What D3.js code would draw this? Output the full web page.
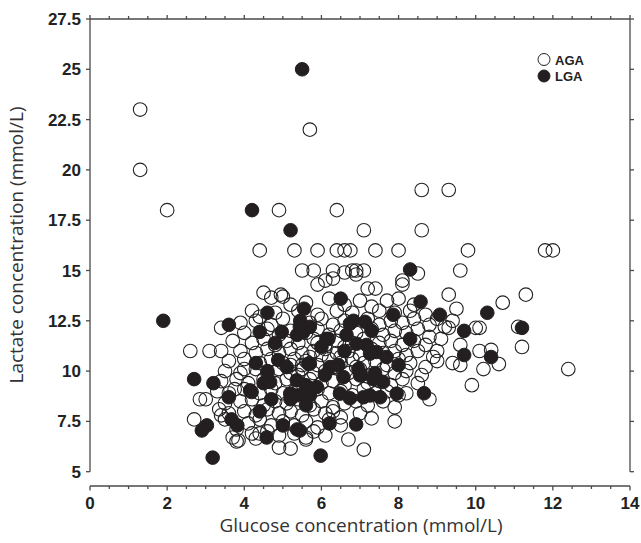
<!DOCTYPE html>
<html>
<head>
<meta charset="utf-8">
<script src="https://cdn.jsdelivr.net/npm/d3@7"></script>
<style>
  html, body { margin: 0; padding: 0; background: #fff; }
  svg { display: block; }
  .tick-label { font-family: "Liberation Sans", Arial, sans-serif; font-weight: bold; font-size: 17px; fill: #222; }
  .axis-title { font-family: "Open Sans", "Noto Sans", sans-serif; font-size: 19px; fill: #333; }
  .legend-label { font-family: "Liberation Sans", Arial, sans-serif; font-weight: bold; font-size: 13px; fill: #222; }
</style>
</head>
<body>
<div id="chart"></div>
<script>
// ---- data (glucose mmol/L, lactate mmol/L) ----
const seriesNames = ["AGA", "LGA"];

const agaPoints = [
  [1.3,23],[1.3,20],[2.0,18],[5.7,22],[4.9,18],[6.4,18],[7.1,17],[8.6,17],[8.6,19],[9.3,19],
  [4.4,16],[5.3,16],[5.9,16],[6.4,16],[6.6,16],[6.75,16],[7.4,16],[8.0,16],[9.8,16],[11.8,16],[12.0,16],
  [5.5,15],[5.8,15],[6.3,15],[6.6,14.9],[6.8,15],[6.9,15],[7.1,15],[6.9,14.8],[8.5,14.85],[9.6,15],
  [5.9,14.3],[6.3,14.6],[6.1,14.5],[8.1,14.5],[8.1,14.3],[7.2,14.1],[7.4,14.1],
  [4.5,13.9],[4.7,13.65],[4.95,13.8],[5.0,13.7],[9.3,13.8],[11.3,13.8],[10.7,13.4],[9.5,13.1],
  [4.4,12.7],[3.4,12.15],[2.6,11.0],[3.1,11.0],[3.4,11.0],[4.0,10.1],
  [9.2,12.2],[9.3,12.15],[10.0,12.15],[10.1,12.15],[11.1,12.2],[11.2,11.2],[9.6,11.3],[10.1,11.0],[10.4,11.05],
  [9.4,10.4],[9.6,10.3],[10.6,10.35],[10.2,10.1],[12.4,10.1],[9.9,9.3],[9.1,11.6],
  [3.0,8.6],[2.85,8.6],[3.75,9.1],[3.35,8.1],[3.4,7.8],[2.7,7.6],[3.7,6.7],[3.8,6.5],[3.85,6.55],
  [4.3,6.65],[4.4,6.9],[4.9,6.2],[5.2,6.15],[5.6,6.7],[5.6,6.6],
  [8.8,8.6],[8.2,8.9],[7.9,8.2],[7.9,7.5],[7.3,7.65],[6.7,6.6],[7.1,6.1],
  [5.6,13.4],[6.2,13.6],[6.6,13.3],[7.0,13.5],[7.3,13.2],[7.7,13.5],[8.0,13.6],[8.4,13.3],[5.2,13.3],
  [4.2,13.0],[4.8,12.9],[5.4,13.0],[5.9,12.8],[6.4,13.0],[6.8,12.9],[7.5,13.0],[7.9,12.9],[8.3,13.0],[8.7,12.8],[9.0,12.6],
  [3.9,12.4],[4.3,12.5],[4.7,12.3],[5.0,12.6],[5.7,12.4],[6.0,12.6],[6.3,12.3],[6.6,12.5],[7.2,12.6],[7.5,12.3],[7.8,12.5],[8.1,12.4],[8.4,12.6],[8.8,12.3],[9.4,12.5],
  [4.0,11.9],[4.6,12.1],[4.9,11.8],[5.2,12.0],[5.6,11.9],[5.9,12.1],[6.2,11.8],[6.5,12.0],[6.9,11.9],[7.3,12.1],[7.6,11.8],[7.9,12.0],[8.2,11.9],[8.5,12.1],[8.8,11.7],
  [3.7,11.5],[4.2,11.4],[4.5,11.6],[4.8,11.3],[5.1,11.5],[5.4,11.4],[5.8,11.6],[6.1,11.3],[6.4,11.5],[6.8,11.4],[7.1,11.6],[7.5,11.4],[7.8,11.5],[8.1,11.3],[8.4,11.5],[8.7,11.3],[9.0,11.0],
  [3.9,11.0],[4.3,10.9],[4.6,11.1],[4.9,10.9],[5.2,11.1],[5.5,10.9],[5.8,11.0],[6.1,11.1],[6.4,10.9],[6.7,11.0],[7.0,10.8],[7.3,11.1],[7.6,10.9],[7.9,11.0],[8.2,10.8],[8.5,11.0],[8.9,10.7],
  [3.6,10.5],[4.0,10.6],[4.4,10.4],[4.7,10.6],[5.0,10.4],[5.3,10.6],[5.6,10.5],[5.9,10.3],[6.2,10.6],[6.5,10.4],[6.8,10.6],[7.1,10.4],[7.4,10.5],[7.7,10.3],[8.0,10.6],[8.3,10.4],[8.7,10.2],[9.0,10.5],
  [3.5,10.0],[3.9,9.9],[4.3,10.1],[4.6,9.9],[4.9,10.1],[5.2,9.9],[5.5,10.1],[5.8,9.9],[6.1,10.0],[6.4,10.2],[6.7,9.9],[7.0,10.1],[7.3,9.8],[7.6,10.1],[7.9,9.9],[8.2,10.0],[8.6,9.8],
  [3.4,9.5],[3.8,9.6],[4.1,9.4],[4.5,9.6],[4.8,9.4],[5.1,9.6],[5.4,9.4],[5.7,9.6],[6.0,9.4],[6.3,9.5],[6.6,9.3],[6.9,9.6],[7.2,9.4],[7.5,9.5],[7.8,9.3],[8.1,9.6],[8.5,9.4],
  [3.3,9.0],[3.6,8.9],[4.0,9.1],[4.4,8.9],[4.7,9.1],[5.0,8.9],[5.3,9.0],[5.6,8.8],[5.9,9.1],[6.2,8.9],[6.5,9.0],[6.8,8.8],[7.1,9.1],[7.4,8.9],[7.7,9.0],[8.0,8.8],
  [3.5,8.4],[3.9,8.5],[4.2,8.6],[4.5,8.3],[4.8,8.5],[5.1,8.4],[5.4,8.6],[5.7,8.3],[6.0,8.5],[6.3,8.2],[6.6,8.4],[6.9,8.5],[7.2,8.3],[7.6,8.5],
  [3.6,7.9],[4.0,8.0],[4.3,7.8],[4.6,8.1],[4.9,7.9],[5.2,8.0],[5.5,7.8],[5.8,8.1],[6.1,7.9],[6.3,8.0],[6.5,7.7],[7.0,7.9],
  [3.5,7.6],[4.1,7.4],[4.4,7.6],[4.7,7.3],[5.0,7.5],[5.3,7.3],[5.6,7.5],[5.9,7.2],[6.2,7.6],[6.5,7.3],
  [3.8,7.1],[4.2,6.9],[4.6,7.0],[4.9,6.8],[5.3,6.9],[5.8,7.0],[6.1,6.8],
  [5.5,10.3],[5.7,10.7],[6.0,10.8],[6.3,10.2],[5.4,9.8],[6.5,10.7],[5.9,11.4],[6.6,11.2],[5.2,10.3],[6.9,10.2]
];

const lgaPoints = [
  [5.5,25],[4.2,18],[5.2,17],[8.3,15.05],[1.9,12.5],[3.6,12.3],[4.6,12.9],[5.55,13.1],[5.45,12.5],
  [4.4,11.95],[4.97,11.95],[5.37,11.8],[5.44,12.2],[4.88,10.55],[2.7,9.6],[3.2,9.4],
  [6.5,13.6],[8.57,13.45],[7.86,12.8],[9.07,12.8],[6.83,12.5],[7.13,12.45],[6.74,12.36],
  [8.3,11.6],[6.18,11.6],[6.65,11.8],[6.13,11.6],[7.17,11.3],[7.43,10.95],[7.69,10.7],[6.91,11.36],[7.26,10.87],
  [5.66,10.37],[5.7,10.37],[6.22,10.2],[6.44,10.3],[6.96,10.1],[7.39,9.9],[6.09,9.8],[7.04,9.8],[5.53,11.94],
  [4.67,9.46],[5.36,9.54],[5.88,9.21],[6.57,9.7],[7.0,9.79],[7.35,9.6],[7.6,9.46],
  [4.15,9.04],[5.19,8.88],[5.7,8.79],[6.48,8.88],[7.26,8.79],[7.95,8.88],
  [10.3,12.9],[11.2,12.15],[9.7,12.0],[9.7,10.8],[10.4,10.7],
  [3.6,8.7],[2.9,7.05],[3.03,7.3],[3.67,7.6],[3.82,7.3],[3.18,5.7],[4.19,8.96],[4.4,8.0],[4.58,6.7],
  [5.0,7.3],[5.37,7.1],[8.66,8.9],[6.9,7.35],[6.21,7.4],[5.98,5.8],[5.44,7.05],
  [6.74,8.65],[7.09,8.7],[7.52,8.7],[4.6,10.0],[5.1,10.2],[5.6,9.3],[6.6,11.0],[6.0,11.2],
  [5.2,8.6],[5.6,8.3],[4.8,11.4],[5.7,12.2],[4.5,9.4],[5.4,8.8],[4.3,10.4],[8.0,10.3],[7.3,12.0],[4.7,8.6]
];

const xTicks = [0, 2, 4, 6, 8, 10, 12, 14];
const yTicks = [5, 7.5, 10, 12.5, 15, 17.5, 20, 22.5, 25, 27.5];
const xLabel = "Glucose concentration (mmol/L)";
const yLabel = "Lactate concentration (mmol/L)";

// ---- layout ----
const width = 641, height = 543;
const plot = {left: 90, right: 630, top: 19, bottom: 471.7};
const xAxisY = 486;
const r = 6.8;

const svg = d3.select("#chart").append("svg")
  .attr("width", width)
  .attr("height", height);

const x = d3.scaleLinear().domain([0, 14]).range([plot.left, plot.right]);
const y = d3.scaleLinear().domain([5, 27.5]).range([plot.bottom, plot.top]);

const axisColor = "#4a4a4a";
const minorX = d3.range(0, 14.001, 0.5);

// frame: left, right, top
const frame = svg.append("g").attr("stroke", axisColor).attr("stroke-width", 1.3).attr("fill", "none");
frame.append("line").attr("x1", plot.left).attr("x2", plot.left).attr("y1", plot.top).attr("y2", plot.bottom);
frame.append("line").attr("x1", plot.right).attr("x2", plot.right).attr("y1", plot.top).attr("y2", plot.bottom);
frame.append("line").attr("x1", plot.left).attr("x2", plot.right).attr("y1", plot.top).attr("y2", plot.top);

// y ticks on left & right
frame.selectAll(".ytl").data(yTicks).enter().append("line")
  .attr("x1", plot.left - 4).attr("x2", plot.left)
  .attr("y1", d => y(d)).attr("y2", d => y(d));
frame.selectAll(".ytr").data(yTicks).enter().append("line")
  .attr("x1", plot.right).attr("x2", plot.right + 4)
  .attr("y1", d => y(d)).attr("y2", d => y(d));

// top ticks (pointing up)
frame.selectAll(".xtt").data(minorX).enter().append("line")
  .attr("x1", d => x(d)).attr("x2", d => x(d))
  .attr("y1", plot.top).attr("y2", d => plot.top - (d % 2 === 0 ? 4 : 3));

// detached x axis
const xg = svg.append("g").attr("stroke", axisColor).attr("stroke-width", 1.3);
xg.append("line").attr("x1", plot.left).attr("x2", plot.right).attr("y1", xAxisY).attr("y2", xAxisY);
xg.selectAll(".xtb").data(minorX).enter().append("line")
  .attr("x1", d => x(d)).attr("x2", d => x(d))
  .attr("y1", xAxisY).attr("y2", d => xAxisY + (d % 2 === 0 ? 4.5 : 3));

// tick labels
svg.selectAll(".ylab").data(yTicks).enter().append("text")
  .attr("class", "tick-label")
  .attr("x", plot.left - 9)
  .attr("y", d => y(d) + 6)
  .attr("text-anchor", "end")
  .text(d => d);

svg.selectAll(".xlab").data(xTicks).enter().append("text")
  .attr("class", "tick-label")
  .attr("x", d => x(d))
  .attr("y", 509)
  .attr("text-anchor", "middle")
  .text(d => d);

// axis titles
svg.append("text").attr("class", "axis-title")
  .attr("x", 361).attr("y", 532)
  .attr("text-anchor", "middle")
  .text(xLabel);

svg.append("text").attr("class", "axis-title")
  .attr("transform", "translate(23,245) rotate(-90)")
  .attr("text-anchor", "middle")
  .text(yLabel);

// points
const pts = svg.append("g");
pts.selectAll(".aga").data(agaPoints).enter().append("circle")
  .attr("cx", d => x(d[0])).attr("cy", d => y(d[1])).attr("r", r)
  .attr("fill", "none").attr("stroke", "#222").attr("stroke-width", 1.1);
pts.selectAll(".lga").data(lgaPoints).enter().append("circle")
  .attr("cx", d => x(d[0])).attr("cy", d => y(d[1])).attr("r", r)
  .attr("fill", "#231f20").attr("stroke", "#231f20").attr("stroke-width", 1);

// legend
const legend = svg.append("g").attr("transform", "translate(544,59.5)");
seriesNames.forEach((name, i) => {
  legend.append("circle")
    .attr("cx", 0).attr("cy", i * 16.5).attr("r", 6)
    .attr("fill", i === 0 ? "#fff" : "#231f20")
    .attr("stroke", "#222").attr("stroke-width", 1);
  legend.append("text").attr("class", "legend-label")
    .attr("x", 11).attr("y", i * 16.5 + 5)
    .text(name);
});
</script>
</body>
</html>
